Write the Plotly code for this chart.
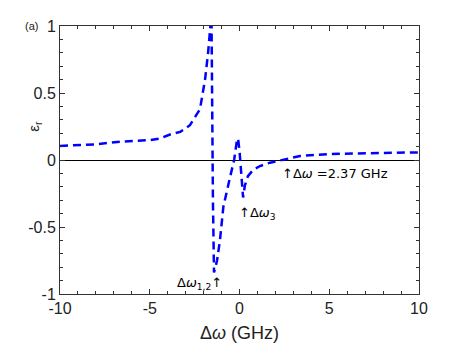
import plotly.graph_objects as go

# detuning (GHz) and relative permittivity
delta_w = [-10, -8, -6.66, -6, -5, -4.43, -3.87, -3.3, -2.76, -2.2, -1.92, -1.75,
           -1.62, -1.58, -1.54, -1.48, -1.42, -1.3, -1.25, -1.09, -0.9, -0.53,
           -0.3, -0.14, -0.08, 0.0, 0.08, 0.14, 0.2, 0.3, 0.47, 0.75, 1.14, 1.7,
           2.37, 3.37, 5, 7.5, 10]
eps_r = [0.105, 0.117, 0.137, 0.14, 0.148, 0.16, 0.19, 0.21, 0.26, 0.38, 0.6, 0.8,
         1.0, 1.4, 0.5, -0.3, -0.84, -0.78, -0.75, -0.6, -0.35, -0.13,
         0.0, 0.15, 0.16, 0.07, -0.07, -0.22, -0.28, -0.19, -0.12, -0.075, -0.045, -0.02,
         0.0, 0.03, 0.045, 0.052, 0.057]

x_ticks = [-10, -5, 0, 5, 10]
y_ticks = [-1, -0.5, 0, 0.5, 1]

font = "Liberation Sans, Arial, DejaVu Sans, sans-serif"

fig = go.Figure()
fig.add_trace(go.Scatter(
    x=delta_w, y=eps_r, mode="lines",
    line=dict(color="#0000ff", width=2.5, dash="8px,5px"),
    showlegend=False,
))

axis_common = dict(
    showline=True, linecolor="#333333", linewidth=1, mirror="ticks",
    ticks="inside", ticklen=5, tickcolor="#333333", showgrid=False,
    tickfont=dict(family=font, size=16, color="#222222"), automargin=False,
)

fig.update_xaxes(
    range=[-10, 10], tickvals=x_ticks, ticktext=[str(v) for v in x_ticks],
    minor=dict(dtick=1, ticks="inside", ticklen=3, tickcolor="#333333", showgrid=False),
    title=dict(text="Δ<i>ω</i> (GHz)", font=dict(family=font, size=18, color="#222222"), standoff=10),
    zeroline=False, **axis_common,
)
fig.update_yaxes(
    range=[-1, 1], tickvals=y_ticks, ticktext=["-1", "-0.5", "0", "0.5", "1"],
    minor=dict(dtick=0.1, ticks="inside", ticklen=3, tickcolor="#333333", showgrid=False),
    zeroline=True, zerolinecolor="#000000", zerolinewidth=1, **axis_common,
)

# y-axis label placed by hand, as in the original it sits above centre
fig.add_annotation(x=-0.072, y=0.25, xref="paper", yref="y", text="ε<sub>r</sub>",
                   textangle=-90, showarrow=False, xanchor="center", yanchor="middle",
                   font=dict(family=font, size=15, color="#222222"))

ann_font = dict(family="DejaVu Sans, Liberation Sans, sans-serif", size=13, color="#000000")
fig.add_annotation(x=2.25, y=-0.1, text="↑Δ<i>ω</i> =2.37 GHz", showarrow=False,
                   xanchor="left", yanchor="middle", font=ann_font)
fig.add_annotation(x=-0.12, y=-0.4, text="↑Δ<i>ω</i><sub>3</sub>", showarrow=False,
                   xanchor="left", yanchor="middle", font=ann_font)
fig.add_annotation(x=-0.85, y=-0.92, text="Δ<i>ω</i><sub>1,2</sub>↑", showarrow=False,
                   xanchor="right", yanchor="middle", font=ann_font)
fig.add_annotation(x=-0.055, y=1.0, xref="paper", yref="paper", text="(a)", showarrow=False,
                   xanchor="right", yanchor="middle", font=dict(family=font, size=11, color="#222222"))

fig.update_layout(
    width=463, height=348,
    margin=dict(l=60, r=44, t=26, b=54),
    plot_bgcolor="white", paper_bgcolor="white",
)

fig.write_html("out.html", config={"displayModeBar": False},
               post_script="document.body.style.margin='0';")
